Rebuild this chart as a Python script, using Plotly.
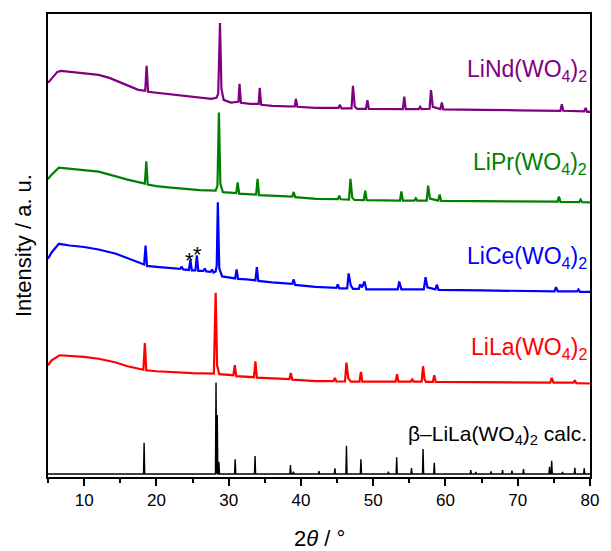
import plotly.graph_objects as go

# ---- data (x = 2theta / deg, y = intensity, offset a.u.) ----
nd_points = [(5.0, 395), (5.5, 399), (6.3, 406), (6.8, 407), (8.0, 406), (10.0, 405), (12.0, 403),
             (13.5, 400), (14.5, 397), (16.0, 392), (17.5, 388), (18.45, 387), (18.65, 412), (18.85, 386),
             (20.0, 385), (22.0, 384), (24.0, 382), (26.0, 380), (27.6, 379), (28.3, 380), (28.55, 384),
             (28.8, 455), (29.0, 389), (29.3, 378), (30.3, 375.3), (31.35, 376), (31.5, 394), (31.7, 375),
             (33.0, 374), (34.15, 374), (34.3, 390), (34.5, 373), (36.0, 372), (38.0, 371.5), (39.15, 371.3),
             (39.3, 379), (39.5, 371), (42.0, 370), (45.2, 370), (45.4, 373), (45.6, 369.5), (47.0, 369.5),
             (47.2, 392), (47.45, 371), (47.8, 369), (49.0, 369), (49.2, 377.7), (49.4, 369), (52.0, 368.7),
             (54.1, 368.7), (54.3, 381.3), (54.5, 368.7), (56.3, 368.7), (56.5, 371), (56.7, 368.7),
             (57.8, 369), (58.0, 387.7), (58.25, 371), (59.3, 368.7), (59.5, 375.3), (59.7, 368.5),
             (62.0, 368.5), (65.0, 368), (70.0, 367.5), (75.9, 367), (76.1, 373.7), (76.3, 367),
             (79.2, 366.5), (79.4, 370), (79.6, 366), (80.0, 366)]

pr_points = [(5.0, 298.7), (5.5, 303), (6.5, 310), (8.0, 309), (10.0, 308), (12.0, 306), (14.4, 301.3),
             (16.0, 298), (18.4, 294), (18.6, 316.3), (18.8, 293), (20.0, 291.5), (22.0, 290), (24.0, 288.5),
             (26.0, 287.5), (28.2, 287), (28.45, 292), (28.65, 365.3), (28.85, 294), (29.2, 285.5),
             (31.05, 284.5), (31.25, 295.3), (31.45, 284), (33.8, 283), (34.0, 298.7), (34.2, 282.5),
             (36.0, 282), (38.8, 281), (39.0, 285.7), (39.2, 280.5), (42.1, 278.7), (45.1, 278.5),
             (45.3, 282), (45.5, 278.3), (46.65, 278), (46.85, 298.7), (47.1, 280), (47.4, 277.7),
             (48.7, 277.5), (48.9, 287), (49.1, 277.5), (53.7, 277), (53.9, 286.3), (54.1, 277),
             (55.7, 277), (55.9, 279.3), (56.1, 277), (57.4, 277), (57.6, 292), (57.85, 279), (59.0, 277),
             (59.2, 283), (59.4, 276.7), (65.0, 276.5), (70.0, 276), (75.5, 276), (75.7, 281), (75.9, 275.8),
             (78.5, 275.5), (78.7, 278), (78.9, 275.5), (80.0, 275.3)]

ce_points = [(5.0, 218.7), (5.5, 225), (6.5, 233.7), (8.0, 232), (10.0, 230.5), (12.0, 228), (14.4, 223.7),
             (16.0, 219), (18.3, 213), (18.5, 232), (18.7, 211.5), (20.0, 210.5), (22.0, 209), (23.3, 208.5),
             (23.5, 211), (23.7, 208), (24.5, 207.5), (24.7, 217.7), (24.9, 207), (25.4, 207), (25.6, 222),
             (25.8, 206.5), (26.5, 206.5), (26.7, 209), (26.9, 206), (27.5, 205.5), (27.7, 208), (27.9, 205),
             (28.2, 206), (28.35, 212), (28.5, 275.3), (28.7, 209), (29.1, 201), (30.9, 199), (31.1, 208),
             (31.3, 198.5), (32.5, 198), (33.7, 197), (33.9, 210.3), (34.1, 196.5), (36.0, 195), (38.8, 193.5),
             (39.0, 198), (39.2, 192.5), (42.0, 190.5), (44.9, 189.5), (45.1, 193), (45.3, 189), (46.4, 189),
             (46.6, 204), (46.9, 192), (47.2, 188.5), (48.0, 188.5), (48.2, 193), (48.45, 190), (48.8, 196),
             (49.05, 188), (53.4, 188), (53.6, 196), (53.9, 188), (57.0, 188), (57.25, 200.3), (57.5, 190),
             (58.6, 188), (58.8, 192.7), (59.05, 187.5), (65.0, 187), (70.0, 186.5), (75.1, 186),
             (75.3, 190.3), (75.55, 186), (78.2, 186), (78.4, 188), (78.6, 185.5), (80.0, 185.5)]

la_points = [(5.0, 112), (5.5, 117), (6.6, 122), (8.0, 121.5), (10.0, 120.3), (12.0, 118.5), (14.4, 114.7),
             (16.0, 111), (18.2, 107.5), (18.4, 134.3), (18.6, 107), (20.0, 106), (22.0, 105), (25.0, 104),
             (27.95, 103.5), (28.2, 184.7), (28.4, 112), (28.7, 103), (30.65, 102), (30.85, 112), (31.05, 101),
             (33.5, 100), (33.7, 116), (33.9, 99.5), (38.4, 98), (38.6, 104.3), (38.8, 97.5), (42.1, 96),
             (44.5, 96), (44.7, 99.3), (44.9, 95.8), (46.1, 95.7), (46.3, 114.7), (46.55, 99), (46.9, 95.5),
             (48.1, 95.5), (48.3, 105.3), (48.5, 95.5), (53.1, 95.5), (53.3, 103), (53.5, 95.5), (55.2, 95.5),
             (55.4, 97.7), (55.6, 95.5), (56.7, 95.5), (56.9, 111), (57.1, 98), (57.3, 95.3), (58.25, 95.3),
             (58.45, 102), (58.65, 95.3), (65.0, 95), (70.0, 94.5), (74.5, 94.5), (74.7, 99.3), (74.95, 94.5),
             (77.7, 94.5), (77.9, 97), (78.1, 94), (80.0, 93.7)]

calc_baseline = 3
calc_pos = [18.3, 28.25, 28.42, 28.65, 30.9, 33.65, 38.55, 38.95, 42.5, 44.7, 46.3, 48.3, 52.1, 53.25,
            55.3, 56.9, 58.45, 63.5, 64.2, 66.3, 67.9, 69.2, 70.8, 74.4, 74.7, 76.2, 77.9, 79.2]
calc_top = [34.3, 94.7, 62, 15.3, 17.7, 21, 12, 5.3, 6, 8.7, 31.3, 17.7, 5.3, 19.7,
            9, 28, 14.3, 7, 5, 5.7, 7, 6.5, 8, 10.3, 16.3, 5, 9.3, 8.7]

labels = ["LiNd(WO<sub>4</sub>)<sub>2</sub>", "LiPr(WO<sub>4</sub>)<sub>2</sub>",
          "LiCe(WO<sub>4</sub>)<sub>2</sub>", "LiLa(WO<sub>4</sub>)<sub>2</sub>",
          "β–LiLa(WO<sub>4</sub>)<sub>2</sub> calc."]
label_y = [407, 314, 220, 129, 42]
colors = ["#800080", "#008000", "#0000FF", "#FF0000", "#000000"]
star_x = [24.56, 25.7]
star_y = [217, 223]

FONT = "Arial, 'Liberation Sans', sans-serif"

# build stick pattern for calculated trace
hw = 0.08
cx, cy = [5.0], [calc_baseline]
for p, t in zip(calc_pos, calc_top):
    cx += [p - hw, p, p + hw]
    cy += [calc_baseline, t, calc_baseline]
cx.append(80.0)
cy.append(calc_baseline)

fig = go.Figure()
for pts, col in zip([nd_points, pr_points, ce_points, la_points], colors[:4]):
    xs, ys = zip(*pts)
    fig.add_trace(go.Scatter(x=list(xs), y=list(ys), mode="lines",
                             line=dict(color=col, width=2.2), showlegend=False))
fig.add_trace(go.Scatter(x=cx, y=cy, mode="lines", line=dict(color="black", width=1.4),
                         showlegend=False))

ann = []
for txt, yv, col in zip(labels, label_y, colors):
    ann.append(dict(x=0.999, y=yv, xref="paper", yref="y", text=txt, showarrow=False,
                    xanchor="right", yanchor="middle",
                    font=dict(family=FONT, size=23 if col != "#000000" else 21, color=col)))
for sx, sy in zip(star_x, star_y):
    ann.append(dict(x=sx, y=sy, xref="x", yref="y", text="*", showarrow=False,
                    xanchor="center", yanchor="middle",
                    font=dict(family=FONT, size=22, color="black")))
ann.append(dict(x=0.5, y=-0.132, xref="paper", yref="paper", text="2<i>θ</i> / °", showarrow=False,
                xanchor="center", yanchor="middle", font=dict(family=FONT, size=22, color="black")))
ann.append(dict(x=-0.045, y=0.5, xref="paper", yref="paper", text="Intensity / a. u.", showarrow=False,
                textangle=-90, xanchor="center", yanchor="middle",
                font=dict(family=FONT, size=22, color="black")))

fig.update_layout(
    width=611, height=551,
    margin=dict(l=48, r=13, t=13, b=74),
    paper_bgcolor="white", plot_bgcolor="white",
    annotations=ann,
    xaxis=dict(range=[5, 80], showgrid=False, zeroline=False,
               showline=True, linecolor="black", linewidth=1.5, mirror=True,
               ticks="outside", ticklen=7, tickwidth=1.5, tickcolor="black",
               tick0=10, dtick=10,
               minor=dict(ticks="outside", ticklen=4, tickwidth=1.5, tickcolor="black", dtick=5, tick0=5),
               tickfont=dict(family=FONT, size=17, color="black")),
    yaxis=dict(range=[0, 464], showgrid=False, zeroline=False,
               showline=True, linecolor="black", linewidth=1.5, mirror=True,
               ticks="", showticklabels=False),
)

fig.write_html("out.html")
